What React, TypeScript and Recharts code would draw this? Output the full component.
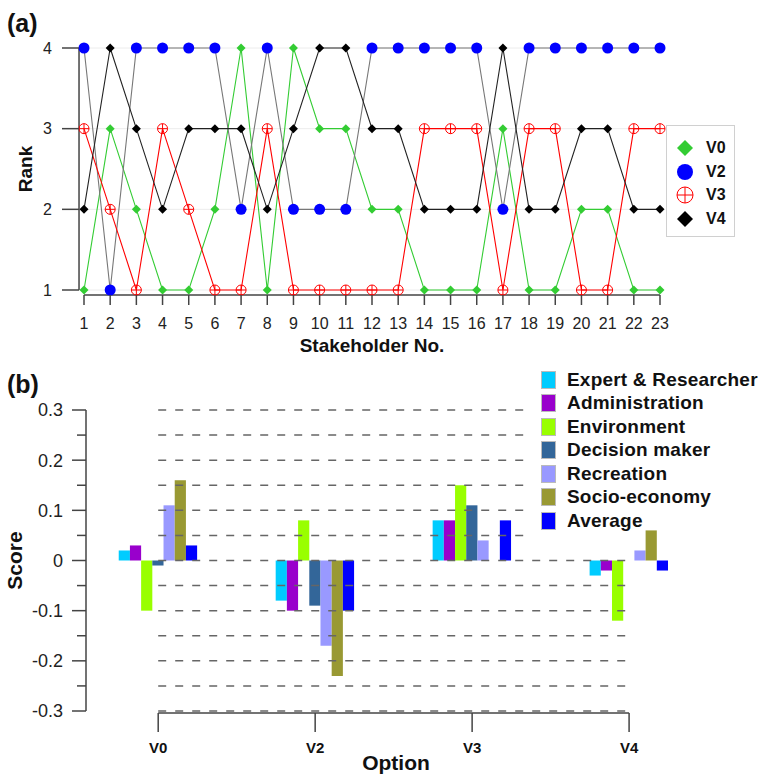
import React from 'react';
import { LineChart, Line, BarChart, Bar, XAxis, YAxis, ReferenceLine, Legend } from 'recharts';

// (a) rank of each option per stakeholder
const stakeholders = [1, 2, 3, 4, 5, 6, 7, 8, 9, 10, 11, 12, 13, 14, 15, 16, 17, 18, 19, 20, 21, 22, 23];
const rankV0 = [1, 3, 2, 1, 1, 2, 4, 1, 4, 3, 3, 2, 2, 1, 1, 1, 3, 1, 1, 2, 2, 1, 1];
const rankV2 = [4, 1, 4, 4, 4, 4, 2, 4, 2, 2, 2, 4, 4, 4, 4, 4, 2, 4, 4, 4, 4, 4, 4];
const rankV3 = [3, 2, 1, 3, 2, 1, 1, 3, 1, 1, 1, 1, 1, 3, 3, 3, 1, 3, 3, 1, 1, 3, 3];
const rankV4 = [2, 4, 3, 2, 3, 3, 3, 2, 3, 4, 4, 3, 3, 2, 2, 2, 4, 2, 2, 3, 3, 2, 2];
const rankTicks = [1, 2, 3, 4];

// (b) score of each option per stakeholder group
const options = ['V0', 'V2', 'V3', 'V4'];
const expertResearcher = [0.02, -0.08, 0.08, -0.03];
const administration = [0.03, -0.1, 0.08, -0.02];
const environment = [-0.1, 0.08, 0.15, -0.12];
const decisionMaker = [-0.01, -0.09, 0.11, 0];
const recreation = [0.11, -0.17, 0.04, 0.02];
const socioEconomy = [0.16, -0.23, 0, 0.06];
const average = [0.03, -0.1, 0.08, -0.02];
const scoreTicks = [-0.3, -0.25, -0.2, -0.15, -0.1, -0.05, 0, 0.05, 0.1, 0.15, 0.2, 0.25, 0.3];

const FONT = "'Liberation Sans', Arial, Helvetica, sans-serif";
const AXIS = '#444';

const rankData = stakeholders.map((s, i) => ({
  s,
  V0: rankV0[i],
  V2: rankV2[i],
  V3: rankV3[i],
  V4: rankV4[i],
}));

const scoreData = options.map((name, i) => ({
  pos: i,
  name,
  expert: expertResearcher[i],
  admin: administration[i],
  env: environment[i],
  dm: decisionMaker[i],
  rec: recreation[i],
  socio: socioEconomy[i],
  avg: average[i],
}));

const groups = [
  { key: 'expert', name: 'Expert & Researcher', color: '#00CCFF' },
  { key: 'admin', name: 'Administration', color: '#9900CC' },
  { key: 'env', name: 'Environment', color: '#99FF00' },
  { key: 'dm', name: 'Decision maker', color: '#336699' },
  { key: 'rec', name: 'Recreation', color: '#9999FF' },
  { key: 'socio', name: 'Socio-economy', color: '#999933' },
  { key: 'avg', name: 'Average', color: '#0000FF' },
];

type MarkerKind = 'diamond' | 'circle' | 'crossCircle';

const marker = (kind: MarkerKind, color: string, cx: number, cy: number, r: number, key?: string) => {
  if (kind === 'diamond') {
    return <path key={key} d={`M${cx},${cy - r}L${cx + r},${cy}L${cx},${cy + r}L${cx - r},${cy}Z`} fill={color} />;
  }
  if (kind === 'circle') {
    return <circle key={key} cx={cx} cy={cy} r={r} fill={color} />;
  }
  return (
    <g key={key}>
      <circle cx={cx} cy={cy} r={r} fill="none" stroke={color} strokeWidth={1} />
      <line x1={cx - r} y1={cy} x2={cx + r} y2={cy} stroke={color} strokeWidth={1} />
      <line x1={cx} y1={cy - r} x2={cx} y2={cy + r} stroke={color} strokeWidth={1} />
    </g>
  );
};

const series = [
  { key: 'V0', line: '#33CC33', color: '#33CC33', kind: 'diamond' as MarkerKind, r: 4.5 },
  { key: 'V2', line: '#777777', color: '#0000FF', kind: 'circle' as MarkerKind, r: 5.5 },
  { key: 'V3', line: '#FF0000', color: '#FF0000', kind: 'crossCircle' as MarkerKind, r: 5 },
  { key: 'V4', line: '#222222', color: '#000000', kind: 'diamond' as MarkerKind, r: 4.5 },
];

const makeDot = (kind: MarkerKind, color: string, r: number) => (props: any) => {
  const { cx, cy, index } = props;
  const key = `dot-${index}`;
  if (cx == null || cy == null) return <g key={key} />;
  return marker(kind, color, cx, cy, r, key);
};

const StakeTick = (props: any) => {
  const { x, y, payload } = props;
  return (
    <g>
      <line x1={x} y1={y + 5} x2={x} y2={y + 15} stroke={AXIS} strokeWidth={1.5} />
      <text x={x} y={y + 33} dy="0.355em" textAnchor="middle" fontSize={16} fill="#222">
        {payload.value}
      </text>
    </g>
  );
};

const RankTick = (props: any) => {
  const { x, y, payload } = props;
  return (
    <g>
      <line x1={x - 22} y1={y} x2={x - 5} y2={y} stroke={AXIS} strokeWidth={1.5} />
      <text x={x - 32} y={y} dy="0.355em" textAnchor="end" fontSize={16} fill="#222">
        {payload.value}
      </text>
    </g>
  );
};

const OptionTick = (props: any) => {
  const { x, y, payload } = props;
  return (
    <g>
      <line x1={x} y1={y + 2} x2={x} y2={y + 21} stroke={AXIS} strokeWidth={1.5} />
      <text x={x} y={y + 37} dy="0.355em" textAnchor="middle" fontSize={15} fontWeight="bold" fill="#111">
        {options[payload.value]}
      </text>
    </g>
  );
};

const formatScore = (v: number) => (v === 0 ? '0' : String(Math.round(v * 10) / 10));

const ScoreTick = (props: any) => {
  const { x, y, payload } = props;
  const v = payload.value;
  const major = Math.round(v * 100) % 10 === 0;
  return (
    <g>
      <line x1={x - (major ? 14 : 9)} y1={y} x2={x} y2={y} stroke={AXIS} strokeWidth={1.5} />
      {major && (
        <text x={x - 23} y={y} dy="0.355em" textAnchor="end" fontSize={18} fill="#222">
          {formatScore(v)}
        </text>
      )}
    </g>
  );
};

const RankLegend = () => (
  <div
    style={{
      width: 69,
      height: 112,
      boxSizing: 'border-box',
      border: '1px solid #d0d0d0',
      background: '#fff',
      paddingTop: 10,
    }}
  >
    {series.map((s) => (
      <div key={s.key} style={{ display: 'flex', alignItems: 'center', height: 23.7 }}>
        <svg width={38} height={22} style={{ display: 'block' }}>
          {marker(s.kind, s.color, 18, 11, 8)}
        </svg>
        <span style={{ fontSize: 16, fontWeight: 'bold', color: '#111', marginLeft: 1 }}>{s.key}</span>
      </div>
    ))}
  </div>
);

const ScoreLegend = () => (
  <div style={{ width: 227, paddingTop: 3, boxSizing: 'border-box' }}>
    {groups.map((g) => (
      <div key={g.key} style={{ display: 'flex', alignItems: 'center', height: 23.5 }}>
        <div style={{ width: 15, height: 18, background: g.color, marginLeft: 6, border: '1px solid #bbb', boxSizing: 'border-box' }} />
        <span style={{ fontSize: 19, fontWeight: 'bold', color: '#111', marginLeft: 11, letterSpacing: 0.2, whiteSpace: 'nowrap' }}>
          {g.name}
        </span>
      </div>
    ))}
  </div>
);

// upper dashed lines stop where the legend begins
const gridEnd = (t: number) => (t > 0.04 ? 2.37 : 3);

const panelLabel: React.CSSProperties = {
  position: 'absolute',
  left: 7,
  fontSize: 25,
  fontWeight: 'bold',
  lineHeight: '25px',
  color: '#111',
};

const App = () => {
  return (
    <div style={{ position: 'absolute', left: 0, top: 0, width: 762, height: 775, background: '#fff', fontFamily: FONT }}>
      <div style={{ ...panelLabel, top: 11 }}>(a)</div>
      <div style={{ position: 'absolute', left: 0, top: 0 }}>
        <LineChart width={762} height={360} data={rankData} margin={{ top: 48, right: 102, bottom: 0, left: 0 }} style={{ fontFamily: FONT }}>
          {rankTicks.map((t) => (
            <ReferenceLine key={`g${t}`} segment={[{ x: 0.81, y: t }, { x: 23, y: t }]} stroke="#ececec" strokeWidth={1} ifOverflow="visible" />
          ))}
          <XAxis
            type="number"
            dataKey="s"
            domain={[1, 23]}
            ticks={stakeholders}
            interval={0}
            axisLine={false}
            tickLine={false}
            tickSize={0}
            tickMargin={0}
            tick={StakeTick}
            height={70}
            label={{ value: 'Stakeholder No.', position: 'insideBottom', offset: 8, style: { fontSize: 19, fontWeight: 'bold', fill: '#111' } }}
          />
          <YAxis
            type="number"
            domain={[1, 4]}
            ticks={rankTicks}
            interval={0}
            width={84}
            axisLine={false}
            tickLine={false}
            tickSize={0}
            tickMargin={0}
            tick={RankTick}
            label={{ value: 'Rank', angle: -90, position: 'insideLeft', offset: 25, style: { textAnchor: 'middle', fontSize: 19, fontWeight: 'bold', fill: '#111' } }}
          />
          <ReferenceLine segment={[{ x: 0.81, y: 1 }, { x: 0.81, y: 4 }]} stroke={AXIS} strokeWidth={1.5} ifOverflow="visible" />
          <ReferenceLine segment={[{ x: 1, y: 0.938 }, { x: 23, y: 0.938 }]} stroke={AXIS} strokeWidth={1.5} ifOverflow="visible" />
          {series.map((s) => (
            <Line
              key={s.key}
              dataKey={s.key}
              stroke={s.line}
              strokeWidth={1.1}
              dot={makeDot(s.kind, s.color, s.r)}
              activeDot={false}
              isAnimationActive={false}
            />
          ))}
          <Legend
            layout="horizontal"
            verticalAlign="middle"
            align="center"
            content={RankLegend}
            wrapperStyle={{ left: 666, top: 125, width: 69, height: 112 }}
          />
        </LineChart>
      </div>

      <div style={{ ...panelLabel, top: 372 }}>(b)</div>
      <div style={{ position: 'absolute', left: 0, top: 355 }}>
        <BarChart
          width={762}
          height={420}
          data={scoreData}
          margin={{ top: 55, right: 56, bottom: 0, left: 0 }}
          barGap={0}
          style={{ fontFamily: FONT }}
        >
          {scoreTicks.map((t) => (
            <ReferenceLine
              key={`sg${t}`}
              segment={[{ x: 0, y: t }, { x: gridEnd(t), y: t }]}
              stroke="#666"
              strokeWidth={1.5}
              strokeDasharray="8 9"
              ifOverflow="visible"
            />
          ))}
          <XAxis
            type="number"
            dataKey="pos"
            domain={[-0.46, 3.49]}
            ticks={[0, 1, 2, 3]}
            interval={0}
            axisLine={false}
            tickLine={false}
            tickSize={0}
            tickMargin={0}
            tick={OptionTick}
            height={64}
            label={{ value: 'Option', position: 'insideBottom', offset: 5, style: { fontSize: 21, fontWeight: 'bold', fill: '#111' } }}
          />
          <YAxis
            type="number"
            domain={[-0.3, 0.3]}
            ticks={scoreTicks}
            interval={0}
            width={86}
            axisLine={{ stroke: AXIS, strokeWidth: 1.5 }}
            tickLine={false}
            tickSize={0}
            tickMargin={0}
            tick={ScoreTick}
            label={{ value: 'Score', angle: -90, position: 'insideLeft', offset: 15, style: { textAnchor: 'middle', fontSize: 21, fontWeight: 'bold', fill: '#111' } }}
          />
          <ReferenceLine segment={[{ x: 0, y: -0.304 }, { x: 3, y: -0.304 }]} stroke={AXIS} strokeWidth={1.5} ifOverflow="visible" />
          {groups.map((g) => (
            <Bar key={g.key} dataKey={g.key} name={g.name} fill={g.color} barSize={11.2} isAnimationActive={false} />
          ))}
          <Legend
            layout="horizontal"
            verticalAlign="middle"
            align="center"
            content={ScoreLegend}
            wrapperStyle={{ left: 535, top: 10, width: 227, height: 170 }}
          />
        </BarChart>
      </div>
    </div>
  );
};

export default App;
